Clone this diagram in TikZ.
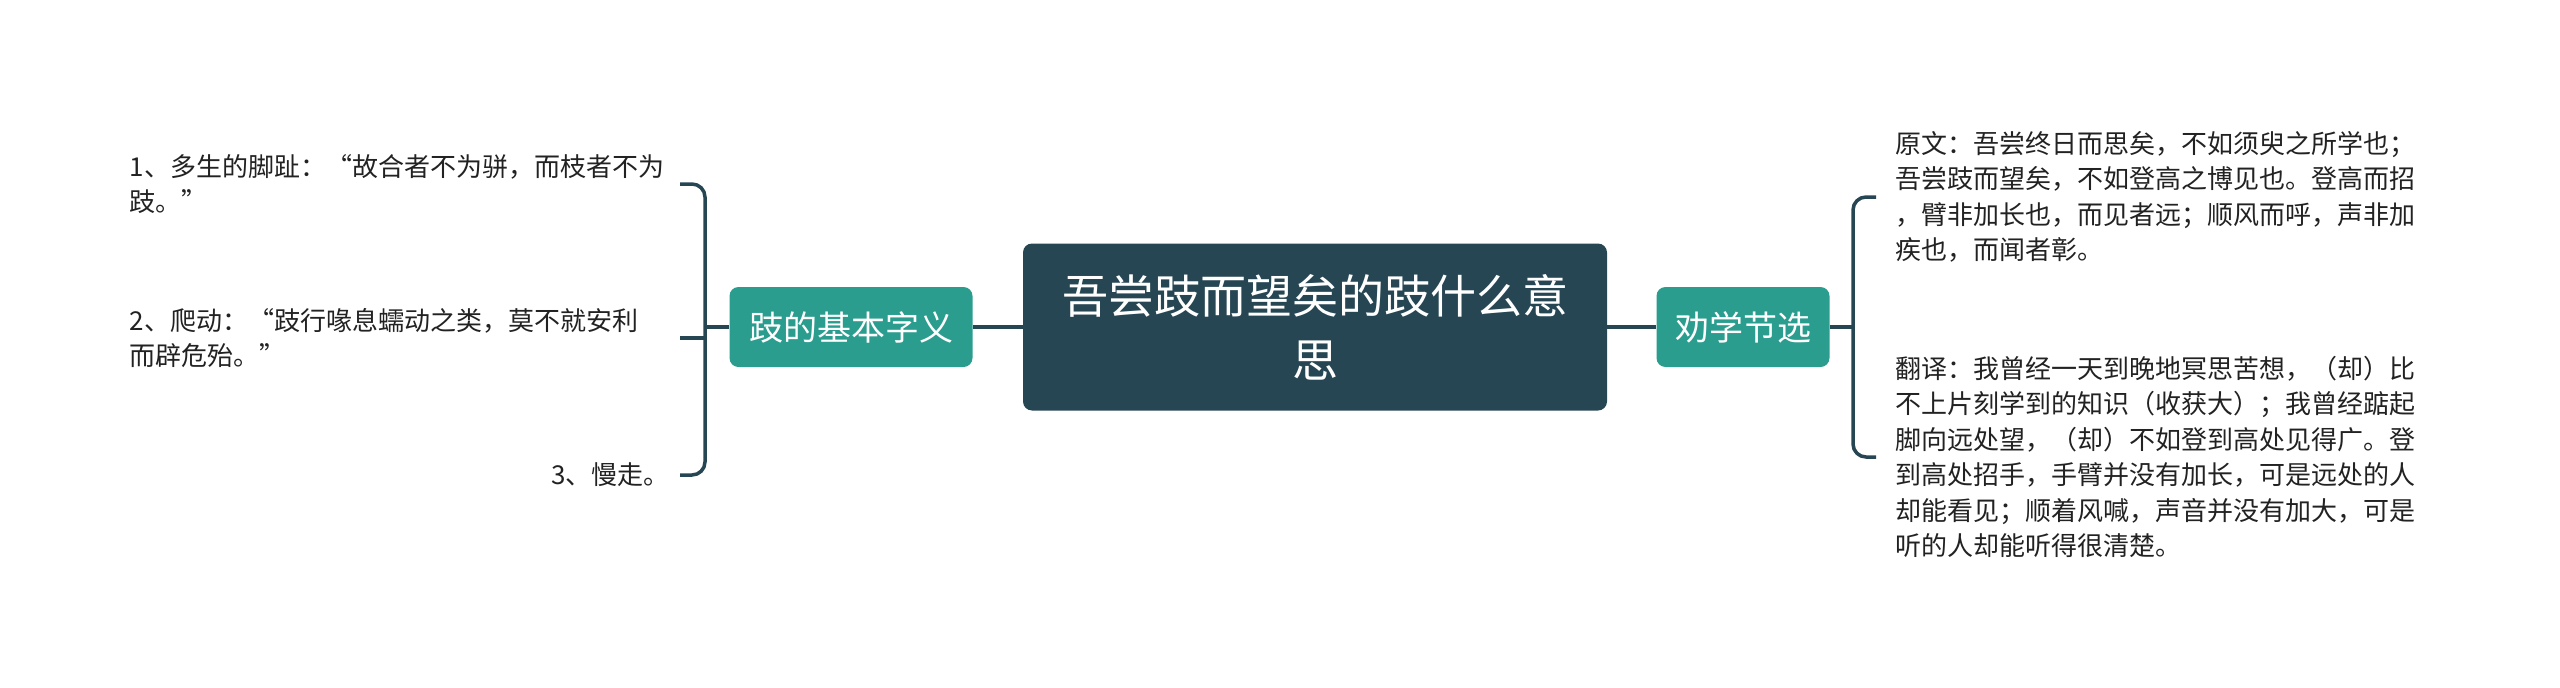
\documentclass[tikz,border=0pt]{standalone}
\usepackage{fontspec}
\setmainfont{Noto Sans CJK SC}[Kerning=Off]
\usepackage{tikz}

\begin{document}
\begin{tikzpicture}[x = 1pt, y = -1pt,
    rootbox/.style = {fill = rootColor, draw = none, rounded corners = 9, text = white, align = center,
        minimum width = 584, minimum height = 167, inner sep = 0, font = \fontsize{46}{64}\selectfont},
    subbox/.style = {fill = subColor, draw = none, rounded corners = 9, text = white,
        minimum height = 80, inner sep = 0, font = \fontsize{34}{40}\selectfont},
    leaftext/.style = {text = textColor, align = left, inner xsep = 10, inner ysep = 4,
        font = \fontsize{26}{35.5}\selectfont},
    conn/.style = {draw = lineColor, line width = 3.5}]
            % \draw [help lines,step = 100] (0,0) grid (2560,688);

            \definecolor{rootColor}{RGB}{38,70,83}
            \definecolor{subColor}{RGB}{42,157,143}
            \definecolor{lineColor}{RGB}{38,70,83}
            \definecolor{textColor}{RGB}{34,34,34}

            \useasboundingbox (0,0) rectangle (2560,688);

            % centre
            \node [rootbox] (root) at (1315,327) {吾尝跂而望矣的跂什么意\\思};

            % left branch
            \node [subbox, minimum width = 243] (basic) at (851,327) {跂的基本字义};
            \node [leaftext, anchor = east, text width = 540] (item1) at (680,184) {1、多生的脚趾：“故合者不为骈，而枝者不为\\跂。”};
            \node [leaftext, anchor = east, text width = 540] (item2) at (680,338) {2、爬动：“跂行喙息蠕动之类，莫不就安利\\而辟危殆。”};
            \node [leaftext, anchor = east] (item3) at (680,475) {3、慢走。};

            \coordinate (lfork) at (705,327);
            \draw [conn] (root.west) -- (basic.east);
            \draw [conn] (basic.west) -- (lfork);
            \draw [conn, rounded corners = 13] (item1.east) -| (lfork) |- (item3.east);
            \draw [conn] (item2.east) -- (item2.east -| lfork);

            % right branch
            \node [subbox, minimum width = 173] (quan) at (1743,327) {劝学节选};
            \node [leaftext, anchor = west, inner xsep = 19, text width = 540] (orig) at (1876,197) {原文：吾尝终日而思矣，不如须臾之所学也；\\吾尝跂而望矣，不如登高之博见也。登高而招\\，臂非加长也，而见者远；顺风而呼，声非加\\疾也，而闻者彰。};
            \node [leaftext, anchor = west, inner xsep = 19, text width = 540] (trans) at (1876,457) {翻译：我曾经一天到晚地冥思苦想，（却）比\\不上片刻学到的知识（收获大）；我曾经踮起\\脚向远处望，（却）不如登到高处见得广。登\\到高处招手，手臂并没有加长，可是远处的人\\却能看见；顺着风喊，声音并没有加大，可是\\听的人却能听得很清楚。};

            \coordinate (rfork) at (1853,327);
            \draw [conn] (root.east) -- (quan.west);
            \draw [conn] (quan.east) -- (rfork);
            \draw [conn, rounded corners = 13] (orig.west) -| (rfork) |- (trans.west);

        \end{tikzpicture}
\end{document}
